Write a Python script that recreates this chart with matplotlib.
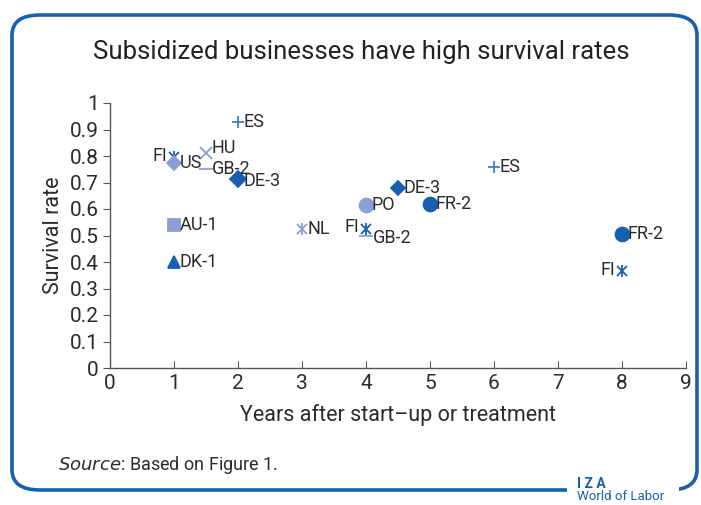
import matplotlib.pyplot as plt
from matplotlib.patches import FancyBboxPatch

plt.rcParams['font.family'] = ['Roboto', 'DejaVu Sans']

dark = '#1560b0'
mid = '#3d7fc8'
light = '#8a9fd2'
text_c = '#2b2b2b'

labels = ['ES', 'ES', 'FI', 'US', 'HU', 'GB-2', 'DE-3', 'NL', 'FI', 'GB-2',
          'PO', 'DE-3', 'FR-2', 'FR-2', 'FI', 'AU-1', 'DK-1']
xs = [2, 6, 1, 1, 1.5, 1.5, 2, 3, 4, 4, 4, 4.5, 5, 8, 8, 1, 1]
ys = [0.93, 0.76, 0.795, 0.775, 0.81, 0.75, 0.715, 0.525, 0.525, 0.50,
      0.615, 0.68, 0.62, 0.505, 0.365, 0.54, 0.40]
markers = ['+', '+', 'star', 'D', 'x', '_', 'D', 'star', 'star', '_',
           'o', 'D', 'o', 'o', 'star', 's', '^']
colors = [mid, mid, dark, light, light, light, dark, light, dark, light,
          light, dark, dark, dark, dark, light, dark]
sizes = [8, 8, 9, 7, 8, 10, 8, 9, 9, 10, 10, 7, 10, 10, 9, 9, 8]
# label offsets in points
offsets = [(4, 0), (4, 0), (-5, 1), (4, 0), (4, 4), (4, 0), (4, -2), (4, 0),
           (-5, 1), (5, -2), (4, 0), (4, 0), (4, 0), (4, 0), (-5, 1), (4, 0), (4, 0)]

fig = plt.figure(figsize=(7.01, 5.05), dpi=100)

frame = FancyBboxPatch((12 / 701, 15 / 505), 685 / 701, 475 / 505,
                       boxstyle='round,pad=0,rounding_size=0.04',
                       transform=fig.transFigure, facecolor='none',
                       edgecolor=dark, linewidth=2.6)
fig.patches.append(frame)

ax = fig.add_axes([110 / 701, 1 - 368 / 505, 576 / 701, 265 / 505])
for x, y, m, c, s, lab, off in zip(xs, ys, markers, colors, sizes, labels, offsets):
    if m == 'star':
        ax.plot(x, y, marker='x', color=c, markersize=s * 0.85, linestyle='none',
                markeredgewidth=1.3, clip_on=False)
        ax.plot(x, y, marker='|', color=c, markersize=s, linestyle='none',
                markeredgewidth=1.3, clip_on=False)
    else:
        ax.plot(x, y, marker=m, color=c, markersize=s, linestyle='none',
                markeredgewidth=1.3, clip_on=False)
    ax.annotate(lab, (x, y), xytext=off, textcoords='offset points',
                ha='right' if off[0] < 0 else 'left', va='center',
                fontsize=13, color=text_c)

ax.set_xlim(0, 9)
ax.set_ylim(0, 1)
ax.set_xticks(range(0, 10))
ax.set_yticks([i / 10 for i in range(11)])
ax.set_yticklabels(['0'] + ['0.%d' % i for i in range(1, 10)] + ['1'])
for sp in ['top', 'right']:
    ax.spines[sp].set_visible(False)
for sp in ['left', 'bottom']:
    ax.spines[sp].set_color('#555555')
    ax.spines[sp].set_linewidth(1.0)
ax.tick_params(axis='both', labelsize=15, colors='#555555', labelcolor=text_c,
               length=5, direction='out', pad=3)
ax.tick_params(axis='x', direction='in', pad=4)
ax.set_xlabel('Years after start\u2013up or treatment', fontsize=15.5, color=text_c, labelpad=8)
ax.set_ylabel('Survival rate', fontsize=15.5, color=text_c, labelpad=4)

fig.text(361 / 701, 1 - 52 / 505, 'Subsidized businesses have high survival rates',
         ha='center', va='center', fontsize=18.5, color='#222222')
fig.text(58 / 701, 1 - 465 / 505, '$\\it{Source}$: Based on Figure 1.',
         ha='left', va='center', fontsize=13, color=text_c)

# IZA logo, interrupting the frame
fig.patches.append(plt.Rectangle((567 / 701, 0), 112 / 701, 30 / 505,
                                 transform=fig.transFigure, facecolor='white',
                                 edgecolor='none', zorder=3))
fig.text(577 / 701, 1 - 484 / 505, 'I Z A', ha='left', va='center', fontsize=10,
         color=dark, fontweight='bold', zorder=4)
fig.text(577 / 701, 1 - 497 / 505, 'World of Labor', ha='left', va='center',
         fontsize=9.5, color=dark, zorder=4)

fig.savefig('out.png', dpi=100)
